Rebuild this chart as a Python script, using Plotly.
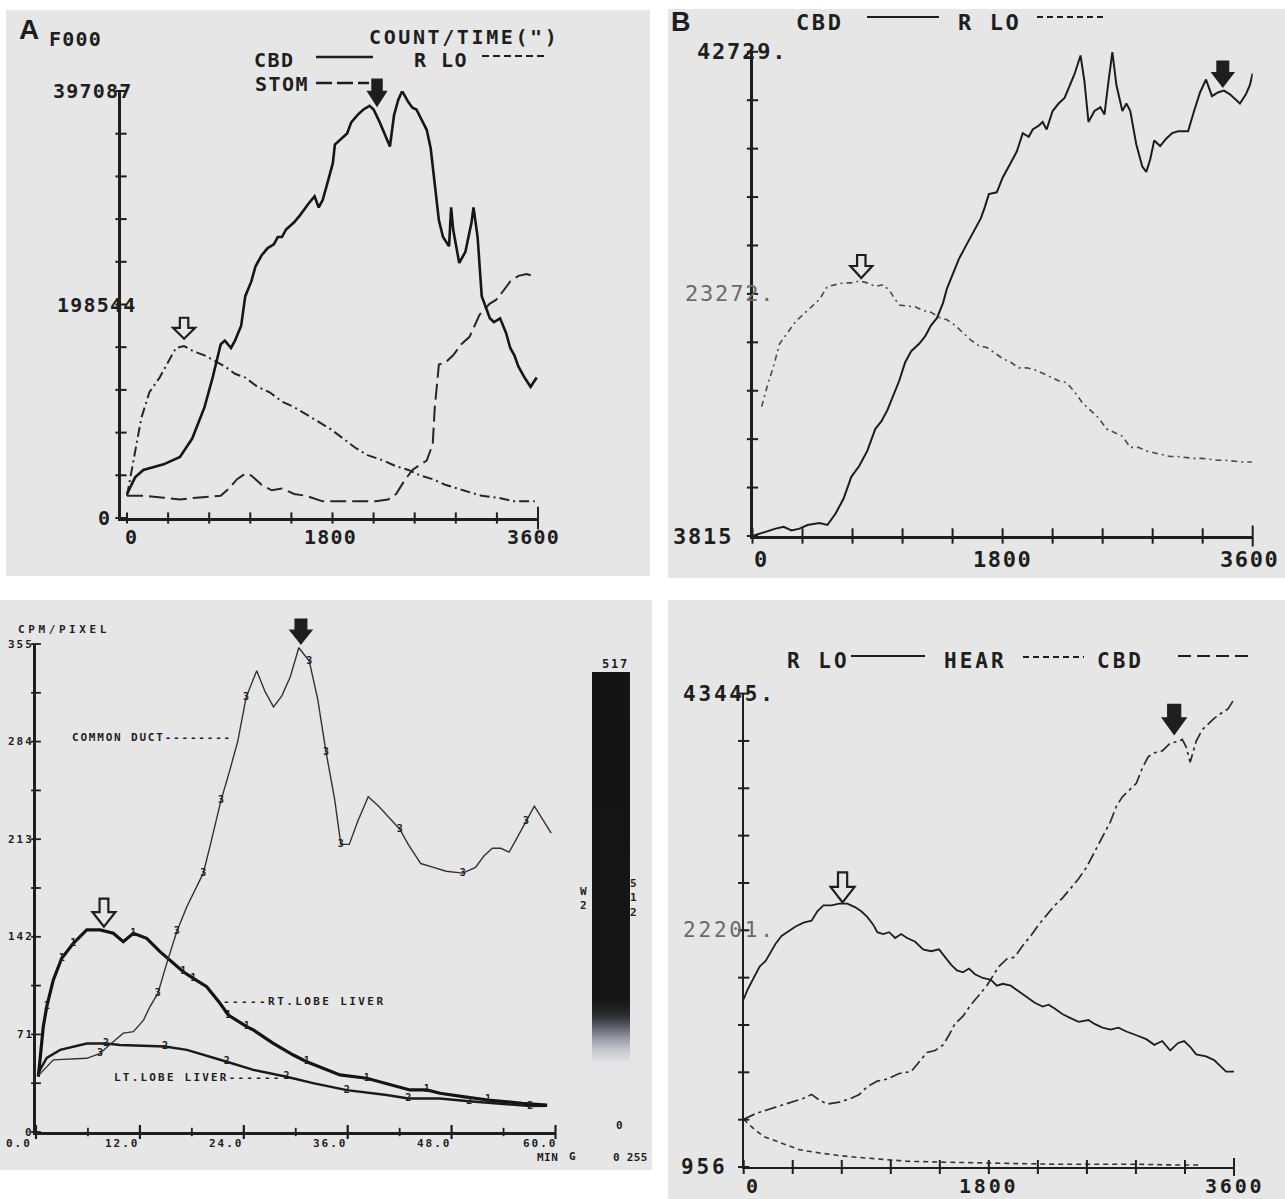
import plotly.graph_objects as go

W, H = 1285, 1199
INK = "#1e1e1e"
GRAY_TXT = "#6a6a6a"
MONO = "DejaVu Sans Mono"
SANS = "Liberation Sans"
PANEL_BG = "#e6e6e6"

# ======================= DATA =======================
# Panel A : counts / time (s)
A_cbd_t = [0, 71, 143, 321, 464, 571, 679, 750, 821, 857, 911, 946, 1000, 1036, 1089, 1125, 1178, 1232, 1286, 1321,
           1357, 1393, 1464, 1518, 1589, 1643, 1679, 1714, 1750, 1803, 1821, 1875, 1928, 1964, 2018, 2071, 2125, 2160,
           2214, 2303, 2339, 2375, 2410, 2464, 2500, 2535, 2625, 2660, 2678, 2732, 2768, 2821, 2839, 2857, 2910, 2964,
           3018, 3035, 3071, 3107, 3143, 3178, 3214, 3268, 3321, 3357, 3393, 3428, 3482, 3535, 3589]
A_cbd = [22300, 37800, 44700, 49900, 56700, 73900, 103100, 130600, 161600, 165000, 158100, 165000, 178800, 206300,
         220000, 233800, 244100, 251000, 254400, 261300, 261300, 268200, 275000, 281900, 292200, 299100, 288800,
         295700, 309400, 330000, 347200, 352400, 357600, 367900, 374700, 379900, 383300, 379900, 367900, 345500,
         374700, 388500, 397000, 386800, 381600, 379900, 361000, 343800, 326600, 276800, 261300, 252700, 288800,
         268200, 237200, 247500, 275000, 288800, 261300, 206300, 196000, 185700, 182200, 185700, 171900, 158100,
         151300, 141000, 130600, 122000, 130600]
A_rlo_t = [0, 71, 125, 196, 286, 357, 429, 500, 589, 679, 768, 857, 946, 1036, 1143, 1250, 1357, 1464, 1571, 1678,
           1786, 1893, 2000, 2107, 2250, 2357, 2464, 2571, 2678, 2786, 2893, 3000, 3107, 3250, 3393, 3571]
A_rlo = [20600, 61900, 92800, 116900, 130600, 144400, 158100, 159900, 154700, 151300, 146100, 141000, 134100, 130600,
         122000, 116900, 108300, 103100, 96300, 89400, 82500, 73900, 65300, 58400, 53300, 48100, 44700, 39500, 36100,
         30900, 27500, 24100, 20600, 18900, 15500, 15500]
A_stom_t = [0, 143, 321, 464, 607, 821, 893, 964, 1036, 1089, 1178, 1268, 1357, 1464, 1571, 1714, 1928, 2178, 2286,
            2357, 2428, 2500, 2571, 2625, 2678, 2696, 2732, 2786, 2857, 2928, 3000, 3089, 3178, 3232, 3285, 3357,
            3428, 3500, 3553]
A_stom = [20600, 20600, 18900, 17200, 18900, 20600, 27500, 36100, 41300, 39500, 30900, 25800, 27500, 22300, 20600,
          15500, 15500, 15500, 17200, 22300, 34400, 44700, 49900, 53300, 68800, 103100, 142700, 144400, 151300,
          161600, 168500, 189100, 199400, 202800, 209700, 220000, 225200, 226900, 225200]
A_ymax = 397087
A_ylabels = ["397087", "198544", "0"]
A_yvals = [397087, 198544, 0]
A_xlabels = ["0", "1800", "3600"]
A_xvals = [0, 1800, 3600]

# Panel B
B_cbd_t = [0, 80, 166, 224, 281, 338, 396, 482, 539, 597, 654, 683, 711, 769, 826, 884, 927, 970, 1013, 1056,
           1099, 1142, 1199, 1242, 1285, 1328, 1371, 1400, 1443, 1486, 1529, 1572, 1615, 1644, 1672, 1701, 1758, 1801,
           1859, 1902, 1945, 1988, 2017, 2060, 2088, 2117, 2160, 2203, 2246, 2275, 2318, 2361, 2389, 2418, 2461,
           2504, 2533, 2562, 2590, 2619, 2662, 2691, 2719, 2762, 2805, 2834, 2863, 2891, 2934, 2977, 3020, 3064,
           3135, 3178, 3221, 3264, 3307, 3350, 3393, 3436, 3479, 3508, 3551, 3580, 3600]
B_cbd = [3815, 4110, 4410, 4560, 4260, 4410, 4700, 4855, 4700, 5600, 6790, 7680, 8570, 9460, 10650, 12430, 13020,
         13910, 15100, 16290, 17780, 18670, 19260, 19860, 20750, 21340, 22530, 23720, 24900, 26090, 26990, 27880,
         28770, 29360, 30250, 31290, 31440, 32630, 33820, 34710, 36190, 35900, 36490, 36790, 37090, 36490, 37970,
         38570, 39020, 39760, 40950, 42430, 40350, 37090, 37970, 38270, 37680, 40350, 42700, 40060, 37970, 38570,
         37970, 35300, 33520, 33070, 34110, 35600, 35150, 35750, 36190, 36340, 36340, 37970, 39460, 40500, 39160,
         39460, 39610, 39310, 38870, 38570, 39310, 40060, 41000]
B_rlo_t = [66, 109, 152, 195, 252, 310, 367, 425, 482, 539, 597, 654, 711, 769, 826, 884, 941, 984, 1027, 1056,
           1113, 1170, 1228, 1285, 1342, 1400, 1457, 1515, 1572, 1629, 1687, 1744, 1801, 1859, 1916, 1974, 2031,
           2088, 2146, 2203, 2260, 2318, 2375, 2432, 2490, 2547, 2605, 2662, 2719, 2777, 2834, 2891, 2949, 3006,
           3064, 3121, 3178, 3236, 3293, 3350, 3408, 3465, 3523, 3594]
B_rlo = [14210, 15990, 17480, 19260, 20150, 21040, 21640, 22230, 22830, 23870, 24010, 24160, 24160, 24310, 24160,
         23870, 24010, 23570, 22830, 22380, 22290, 22230, 21930, 21790, 21400, 21190, 20750, 20150, 19560, 19110,
         18960, 18520, 18070, 17780, 17330, 17330, 17180, 16890, 16590, 16290, 16140, 15400, 14510, 13910, 13320,
         12430, 12130, 11830, 10940, 10940, 10650, 10500, 10350, 10200, 10200, 10110, 10050, 10050, 9990, 9900,
         9900, 9820, 9760, 9760]
B_ylabels = ["42729.", "23272.", "3815"]
B_yvals = [42729, 23272, 3815]
B_xlabels = ["0", "1800", "3600"]
B_xvals = [0, 1800, 3600]

# Panel C : CPM/pixel vs minutes
C_cd_t = [0.27, 2.0, 5.86, 7.4, 8.48, 10.08, 11.25, 12.42, 13.15, 14.07, 15.1, 16.26, 17.42, 19.32, 20.15, 21.36,
          22.33, 23.3, 24.27, 25.49, 26.46, 27.43, 28.41, 29.38, 30.35, 31.56, 32.54, 33.51, 34.48, 35.21, 36.18,
          37.15, 38.37, 39.58, 40.8, 42.01, 42.99, 44.44, 45.9, 47.36, 49.3, 50.76, 51.73, 52.7, 53.68, 54.65,
          55.62, 56.59, 57.56, 58.53, 59.5]
C_cd = [41.0, 52.5, 53.6, 57.2, 63.3, 71.9, 73.0, 81.4, 91.1, 100.8, 122.7, 145.8, 163.9, 188.3, 209.2, 241.1,
        262.0, 284.2, 316.2, 335.6, 320.3, 309.2, 317.5, 331.4, 352.3, 342.5, 314.7, 275.9, 242.5, 209.2, 209.2,
        225.9, 243.9, 237.0, 228.6, 220.3, 209.2, 195.3, 192.5, 189.7, 188.3, 192.5, 200.8, 206.4, 206.4, 203.6,
        214.7, 225.9, 237.0, 227.2, 217.5]
C_cd_marks = [3, 9, 11, 13, 15, 18, 25, 27, 29, 35, 40, 47]
C_rt_t = [0.27, 0.84, 1.24, 2.0, 2.97, 4.31, 5.86, 7.39, 8.93, 10.08, 11.24, 12.78, 14.32, 15.48, 17.01, 18.17,
          19.71, 21.25, 22.21, 24.33, 25.1, 27.41, 29.72, 31.26, 32.8, 35.11, 38.19, 38.95, 40.5, 43.19, 45.12,
          46.66, 49.31, 52.2, 56.12, 59.03]
C_rt = [40.2, 76.6, 91.2, 110.6, 126.4, 137.3, 147.0, 147.0, 144.6, 138.4, 144.6, 140.9, 131.2, 125.1, 116.6,
        111.8, 105.7, 93.6, 85.1, 76.6, 74.2, 64.5, 56.0, 51.1, 47.5, 41.5, 39.1, 37.8, 35.4, 30.6, 30.6, 28.2,
        25.7, 23.3, 20.9, 19.6]
C_rt_marks = [2, 4, 5, 10, 14, 15, 18, 19, 23, 26, 30, 33]
C_lt_t = [0.27, 1.24, 2.79, 5.86, 8.09, 9.7, 14.9, 17.42, 22.04, 25.1, 28.94, 32.0, 35.89, 40.51, 43.0, 46.63,
          50.03, 53.19, 57.08, 59.03]
C_lt = [43.0, 53.9, 59.7, 64.4, 64.4, 63.3, 62.2, 59.7, 51.1, 45.2, 40.2, 35.5, 30.5, 26.9, 24.4, 24.4, 22.4,
        20.8, 18.8, 19.1]
C_lt_marks = [4, 6, 8, 10, 12, 14, 16, 18]
C_ylabels = ["355", "284", "213", "142", "71", "0"]
C_yvals = [355, 284, 213, 142, 71, 0]
C_xlabels = ["0.0", "12.0", "24.0", "36.0", "48.0", "60.0"]
C_xvals = [0, 12, 24, 36, 48, 60]
C_bar_max = 517

# Panel D
D_rlo_t = [0, 29, 73, 117, 161, 205, 234, 278, 322, 381, 439, 498, 541, 585, 644, 702, 761, 820, 863, 907, 951,
           981, 1024, 1068, 1112, 1156, 1200, 1259, 1317, 1376, 1434, 1478, 1522, 1566, 1610, 1654, 1698, 1756,
           1815, 1859, 1903, 1961, 2020, 2078, 2137, 2195, 2239, 2283, 2342, 2400, 2459, 2532, 2576, 2634, 2693,
           2751, 2810, 2883, 2956, 3015, 3073, 3132, 3190, 3234, 3278, 3322, 3395, 3454, 3498, 3542, 3600]
D_rlo = [16030, 16890, 17920, 18950, 19460, 20320, 21000, 21690, 22030, 22540, 22890, 23060, 23910, 24430, 24430,
         24600, 24600, 24260, 23910, 23400, 22710, 22030, 21860, 22030, 21510, 21860, 21510, 21170, 20490, 20320,
         20490, 19800, 19120, 18600, 18430, 18770, 18260, 17920, 17750, 17230, 17400, 17230, 16720, 16200, 15690,
         15350, 15520, 15180, 14660, 14320, 13980, 14150, 13800, 13460, 13290, 13460, 13120, 12780, 12430, 11920,
         12260, 11410, 12090, 12260, 11750, 11060, 10890, 10550, 10040, 9520, 9520]
D_cbd_t = [0, 88, 176, 263, 351, 439, 498, 556, 615, 702, 790, 849, 907, 981, 1054, 1142, 1229, 1288, 1346, 1405,
           1464, 1507, 1551, 1610, 1668, 1727, 1785, 1829, 1873, 1932, 1990, 2049, 2107, 2166, 2225, 2283, 2342,
           2400, 2459, 2517, 2561, 2605, 2649, 2693, 2737, 2781, 2825, 2883, 2927, 2971, 3015, 3073, 3132, 3190,
           3220, 3249, 3278, 3293, 3322, 3366, 3410, 3454, 3512, 3556, 3600]
D_cbd = [5240, 5750, 6100, 6440, 6780, 7120, 7470, 6950, 6610, 6780, 7120, 7470, 8150, 8670, 8840, 9350, 9520,
         10380, 11240, 11410, 11920, 12780, 13810, 14490, 15520, 16370, 17230, 18090, 18940, 19630, 19800, 20830,
         21690, 22710, 23570, 24430, 25110, 25970, 26830, 27850, 28880, 29910, 30940, 31960, 33340, 34190, 34710,
         35390, 36760, 37790, 38130, 38300, 38990, 39160, 39330, 38650, 37280, 37960, 39160, 40190, 40700, 41220,
         41730, 42070, 42930]
D_hear_t = [0, 59, 146, 263, 410, 556, 702, 849, 1024, 1200, 1434, 1727, 2020, 2312, 2605, 2898, 3190, 3366]
D_hear = [5240, 4550, 3700, 3180, 2500, 2220, 1980, 1810, 1640, 1470, 1400, 1300, 1260, 1200, 1200, 1200, 1130, 1130]
D_ylabels = ["43445.", "22201.", "956"]
D_yvals = [43445, 22201, 956]
D_xlabels = ["0", "1800", "3600"]
D_xvals = [0, 1800, 3600]

SEC_TICKS = [0, 360, 720, 1080, 1440, 1800, 2160, 2520, 2880, 3240, 3600]

# Arrow markers (tip position in data units)
ARROWS = [  # panel, x, y, width px, height px, filled
    ("A", 500, 166700, 22, 21, False),
    ("A", 2190, 383000, 19, 27, True),
    ("B", 783, 24550, 22, 23, False),
    ("B", 3385, 39900, 22, 26, True),
    ("C", 7.85, 149.4, 23, 28, False),
    ("C", 30.6, 355, 22, 25, True),
    ("D", 726, 24700, 24, 30, False),
    ("D", 3161, 39780, 24, 30, True),
]

# ======================= GEOMETRY (pixels) =======================
GEO = {
    "A": dict(xa="x", ya="y", xpx=(121, 538), xr=(-52.55, 3600), ypx=(91, 518), yr=(0, A_ymax), lw=2.5),
    "B": dict(xa="x2", ya="y2", xpx=(752.5, 1252.7), xr=(0, 3600), ypx=(51.8, 536), yr=(3815, 42729), lw=2.5),
    "C": dict(xa="x3", ya="y3", xpx=(36, 555.5), xr=(0, 60), ypx=(644, 1132), yr=(0, 355), lw=3),
    "D": dict(xa="x4", ya="y4", xpx=(743.7, 1234), xr=(0, 3600), ypx=(693.6, 1167), yr=(956, 43445), lw=2.3),
}


def PX(x):
    return x / W


def PY(y):
    return 1 - y / H


def to_paper(P, x, y):
    g = GEO[P]
    fx = (x - g["xr"][0]) / (g["xr"][1] - g["xr"][0])
    fy = (y - g["yr"][0]) / (g["yr"][1] - g["yr"][0])
    px = g["xpx"][0] + fx * (g["xpx"][1] - g["xpx"][0])
    py = g["ypx"][1] - fy * (g["ypx"][1] - g["ypx"][0])
    return PX(px), PY(py)


fig = go.Figure()

# panel backgrounds
for (x0, x1, y0, y1) in [(6, 650, 10, 576), (668, 1285, 9, 578), (0, 652, 600, 1170), (668, 1285, 600, 1199)]:
    fig.add_shape(type="rect", xref="paper", yref="paper", x0=PX(x0), x1=PX(x1), y0=PY(y1), y1=PY(y0),
                  fillcolor=PANEL_BG, line=dict(width=0), layer="below")

# axes
for P, g in GEO.items():
    xk = "xaxis" + g["xa"][1:]
    yk = "yaxis" + g["ya"][1:]
    fig.update_layout({
        xk: dict(domain=[PX(g["xpx"][0]), PX(g["xpx"][1])], range=list(g["xr"]), anchor=g["ya"],
                 showline=True, linewidth=g["lw"], linecolor=INK, showgrid=False, zeroline=False,
                 showticklabels=False, ticks="", fixedrange=True),
        yk: dict(domain=[PY(g["ypx"][1]), PY(g["ypx"][0])], range=list(g["yr"]), anchor=g["xa"],
                 showline=True, linewidth=g["lw"], linecolor=INK, showgrid=False, zeroline=False,
                 showticklabels=False, ticks="", fixedrange=True),
    })


def curve(P, x, y, width, dash="solid", color=INK):
    assert len(x) == len(y)
    g = GEO[P]
    fig.add_trace(go.Scatter(x=x, y=y, xaxis=g["xa"], yaxis=g["ya"], mode="lines",
                             line=dict(color=color, width=width, dash=dash), hoverinfo="skip",
                             showlegend=False))


def tickmarks(P, xs, ys, symbol, size, width=2.0, color=INK):
    g = GEO[P]
    fig.add_trace(go.Scatter(x=xs, y=ys, xaxis=g["xa"], yaxis=g["ya"], mode="markers", cliponaxis=False,
                             marker=dict(symbol=symbol, size=size, color=color, line=dict(width=width, color=color)),
                             hoverinfo="skip", showlegend=False))


def digits(P, x, y, idx, ch, size=10):
    g = GEO[P]
    fig.add_trace(go.Scatter(x=[x[i] for i in idx], y=[y[i] for i in idx], xaxis=g["xa"], yaxis=g["ya"],
                             mode="text", text=[ch] * len(idx), cliponaxis=False,
                             textfont=dict(family=MONO, size=size, color=INK, weight="bold"),
                             hoverinfo="skip", showlegend=False))


def label(s, x, y, size, xref="paper", yref="paper", xanchor="center", yanchor="middle", color=INK,
          weight="bold", family=MONO, spacing=0, xshift=0, yshift=0):
    if spacing:
        s = '<span style="letter-spacing:%.1fpx">%s</span>' % (spacing, s)
    fig.add_annotation(text=s, x=x, y=y, xref=xref, yref=yref, showarrow=False, xanchor=xanchor,
                       yanchor=yanchor, borderpad=0, xshift=xshift, yshift=yshift,
                       font=dict(family=family, size=size, color=color, weight=weight))


def seg(x0, x1, y, width, dash, color=INK):
    fig.add_shape(type="line", xref="paper", yref="paper", x0=PX(x0), x1=PX(x1), y0=PY(y), y1=PY(y),
                  line=dict(color=color, width=width, dash=dash))


# ---------------- Panel A ----------------
curve("A", A_rlo_t, A_rlo, 2.0, "10px,4px,2px,4px", "#262626")
curve("A", A_stom_t, A_stom, 2.0, "16px,6px", "#262626")
curve("A", A_cbd_t, A_cbd, 2.6, "solid", "#161616")
tickmarks("A", SEC_TICKS[:-1], [0] * 10, "line-ns-open", 8)
tickmarks("A", [3600], [0], "line-ns-open", 16)
tickmarks("A", [GEO["A"]["xr"][0]] * 11, [A_ymax * i / 10 for i in range(11)], "line-ew-open", 8)
for s, v, cx in zip(A_ylabels, A_yvals, [92, 96, 104]):
    label(s, PX(cx), v, 20, yref="y", spacing=1.2)
for s, v, sh in zip(A_xlabels, A_xvals, [4, -2, -5]):
    label(s, v, PY(537), 20, xref="x", spacing=1.2, xshift=sh)
label("A", PX(28.5), PY(29), 28, family=SANS)
label("F000", PX(75.5), PY(39), 20, spacing=1.2)
label('COUNT/TIME(")', PX(464), PY(37), 20, spacing=2.6)
label("CBD", PX(274), PY(60), 20, spacing=1.5)
label("R LO", PX(441), PY(60), 20, spacing=1.5)
label("STOM", PX(282), PY(84), 20, spacing=1.5)
seg(316, 373, 57, 2.5, "solid")
seg(482, 545, 56, 2.2, "7px,4px")
seg(316, 369, 83, 2.5, "16px,5px")

# ---------------- Panel B ----------------
curve("B", B_rlo_t, B_rlo, 1.6, "6px,4px,2px,4px", "#4a4a4a")
curve("B", B_cbd_t, B_cbd, 2.0, "solid", "#1c1c1c")
tickmarks("B", SEC_TICKS[:-1], [3815] * 10, "line-ns-open", 11)
tickmarks("B", [3600], [3815], "line-ns-open", 15)
tickmarks("B", [0] * 11, [3815 + (42729 - 3815) * i / 10 for i in range(11)], "line-ew-open", 8)
for s, v, cx, col, wt in zip(B_ylabels, B_yvals, [742, 730, 703], [INK, GRAY_TXT, INK], ["bold", "normal", "bold"]):
    label(s, PX(cx), v, 22, yref="y2", spacing=1.8, color=col, weight=wt)
for s, v, sh in zip(B_xlabels, B_xvals, [9, 0, -3]):
    label(s, v, PY(559), 22, xref="x2", spacing=1.6, xshift=sh)
label("B", PX(681), PY(22), 27, family=SANS)
label("CBD", PX(820), PY(22), 22, spacing=2.6)
label("R LO", PX(989), PY(22), 22, spacing=2.6)
seg(867, 939, 17, 2.2, "solid")
seg(1037, 1104, 17, 2.0, "6px,4px")

# ---------------- Panel C ----------------
curve("C", C_lt_t, C_lt, 2.4, "solid", "#1a1a1a")
curve("C", C_rt_t, C_rt, 3.2, "solid", "#141414")
curve("C", C_cd_t, C_cd, 1.4, "solid", "#333333")
digits("C", C_cd_t, C_cd, C_cd_marks, "3")
digits("C", C_rt_t, C_rt, C_rt_marks, "1")
digits("C", C_lt_t, C_lt, C_lt_marks, "2")
tickmarks("C", C_xvals, [0] * 6, "line-ns-open", 10, 2.2)
tickmarks("C", [6, 18, 30, 42, 54], [0] * 5, "line-ns-open", 6, 1.8)
tickmarks("C", [0] * 11, [35.5 * i for i in range(11)], "line-ew-open", 7, 1.8)
for s, v in zip(C_ylabels, C_yvals):
    label(s, PX(35), v, 11, yref="y3", xanchor="right", spacing=2.0)
for s, v, sh in zip(C_xlabels, C_xvals, [-3, 1, 1, 1, 1, 3]):
    label(s, v, PY(1143), 11, xref="x3", xanchor="right", spacing=2.0, xshift=sh)
label("CPM/PIXEL", PX(64), PY(629), 11, spacing=3.6)
label("COMMON DUCT--------", PX(151.5), PY(737), 11, spacing=1.8)
label("-----RT.LOBE LIVER", PX(304), PY(1001), 11, spacing=2.4)
label("LT.LOBE LIVER------", PX(198), PY(1077), 11, spacing=2.2)
label("MIN", PX(547), PY(1157), 11, spacing=0.5)
label("G", PX(572), PY(1156), 11)
label("0 255", PX(630), PY(1157), 11, spacing=0.3)
label("0", PX(619), PY(1125), 11)
label(str(C_bar_max), PX(615), PY(664), 12, spacing=1.8)
label("W<br>2", PX(583), PY(898), 11)
label("5<br>1<br>2", PX(633), PY(898), 11)
# grey-scale intensity bar (0..517)
fig.add_trace(go.Scatter(
    x=[30], y=[-100], xaxis="x3", yaxis="y3", mode="markers", hoverinfo="skip", showlegend=False,
    marker=dict(size=1, color=[0], cmin=0, cmax=C_bar_max, showscale=True,
                colorscale=[[0, "#e2e2e6"], [0.03, "#c8c8d0"], [0.06, "#9a9aa4"], [0.09, "#5e5e68"],
                            [0.12, "#2a2a30"], [0.16, "#161616"], [1, "#141414"]],
                colorbar=dict(x=PX(592), xanchor="left", y=PY(672), yanchor="top", len=390,
                              lenmode="pixels", thickness=38, thicknessmode="pixels", outlinewidth=0,
                              ticks="", showticklabels=False, xpad=0, ypad=0,
                              bgcolor="rgba(0,0,0,0)"))))

# ---------------- Panel D ----------------
curve("D", D_hear_t, D_hear, 1.6, "5px,4px", "#333333")
curve("D", D_cbd_t, D_cbd, 1.7, "12px,4px,3px,4px", "#2a2a2a")
curve("D", D_rlo_t, D_rlo, 1.8, "solid", "#1e1e1e")
tickmarks("D", SEC_TICKS[:-1], [956] * 10, "line-ns-open", 10)
tickmarks("D", [3600], [956], "line-ns-open", 13)
tickmarks("D", [0] * 11, [956 + (43445 - 956) * i / 10 for i in range(11)], "line-ew-open", 8)
for s, v, cx, col, wt in zip(D_ylabels, D_yvals, [729, 729, 704], [INK, GRAY_TXT, INK], ["bold", "normal", "bold"]):
    label(s, PX(cx), v, 21, yref="y4", spacing=2.8, color=col, weight=wt)
for s, v, sh in zip(D_xlabels, D_xvals, [10, 0, 0]):
    label(s, v, PY(1186), 20, xref="x4", spacing=2.8, xshift=sh)
label("R LO", PX(818), PY(661), 21, spacing=3.0)
label("HEAR", PX(975), PY(661), 21, spacing=3.0)
label("CBD", PX(1120), PY(661), 21, spacing=3.0)
seg(851, 925, 656, 2.0, "solid")
seg(1023, 1084, 657, 2.0, "6px,4px")
seg(1178, 1250, 656, 2.2, "13px,6px")

# ---------------- arrows ----------------
for P, x, y, w, h, filled in ARROWS:
    ax, ay = to_paper(P, x, y)
    hw = w / 2.0
    sw = w * (0.27 if filled else 0.19)
    hh = h * (0.55 if filled else 0.52)
    path = "M 0 0 L %.1f %.1f L %.1f %.1f L %.1f %.1f L %.1f %.1f L %.1f %.1f L %.1f %.1f Z" % (
        hw, hh, sw, hh, sw, h, -sw, h, -sw, hh, -hw, hh)
    fig.add_shape(type="path", xref="paper", yref="paper", xsizemode="pixel", ysizemode="pixel",
                  xanchor=ax, yanchor=ay, path=path, layer="above",
                  fillcolor=INK if filled else PANEL_BG,
                  line=dict(color=INK, width=1.2 if filled else 2.2))

fig.update_layout(width=W, height=H, margin=dict(l=0, r=0, t=0, b=0, autoexpand=False),
                  paper_bgcolor="white", plot_bgcolor="rgba(0,0,0,0)", showlegend=False)

fig.write_html("out.html", config={"displayModeBar": False},
               post_script="document.body.style.margin='0px';document.body.style.overflow='hidden';")
